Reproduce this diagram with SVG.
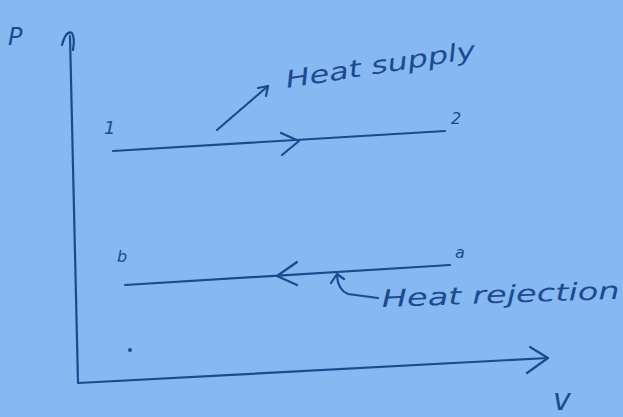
<svg xmlns="http://www.w3.org/2000/svg" width="623" height="417" viewBox="0 0 623 417">
<style>
.ink{fill:none;stroke:#1d4a8e;stroke-width:2.2;stroke-linecap:round;stroke-linejoin:round}
.lbl{fill:#1d4a8e;font-family:"DejaVu Sans",sans-serif;font-style:italic}
</style>
<rect width="623" height="417" fill="#86b8f2"/>
<g id="axes">
<path class="ink" d="M70 36 L78 383 L548 358"/>
<path class="ink" d="M62 45 Q66 30 72 33 Q75 38 73 50"/>
<path class="ink" d="M530 347 L548 358 L527 373"/>
<text class="lbl" x="8" y="45" font-size="24">P</text>
<text class="lbl" x="553" y="410" font-size="30">v</text>
</g>
<g id="connectors">
<path class="ink" d="M113 151 L445 131"/>
<path class="ink" d="M281 133 L299 141 L282 155"/>
<path class="ink" d="M125 285 L450 265"/>
<path class="ink" d="M297 262 L277 276 L297 285"/>
<path class="ink" d="M217 130 L268 86"/>
<path class="ink" d="M258 88 L268 86 L266 96"/>
<path class="ink" d="M337 276 Q338 290 348 294 L378 298 M331 283 L337 274 L344 279"/>
</g>
<g id="labels">
<text class="lbl" x="104" y="134" font-size="18">1</text>
<text class="lbl" x="451" y="124" font-size="16">2</text>
<text class="lbl" x="117" y="262" font-size="16">b</text>
<text class="lbl" x="455" y="258" font-size="16">a</text>
<text class="lbl" x="287" y="88" font-size="24" textLength="192" lengthAdjust="spacingAndGlyphs" transform="rotate(-9 287 88)">Heat supply</text>
<text class="lbl" x="382" y="307" font-size="24" textLength="238" lengthAdjust="spacingAndGlyphs" transform="rotate(-2 382 307)">Heat rejection</text>
<circle cx="130" cy="350" r="2" fill="#1d4a8e"/>
</g>
</svg>
